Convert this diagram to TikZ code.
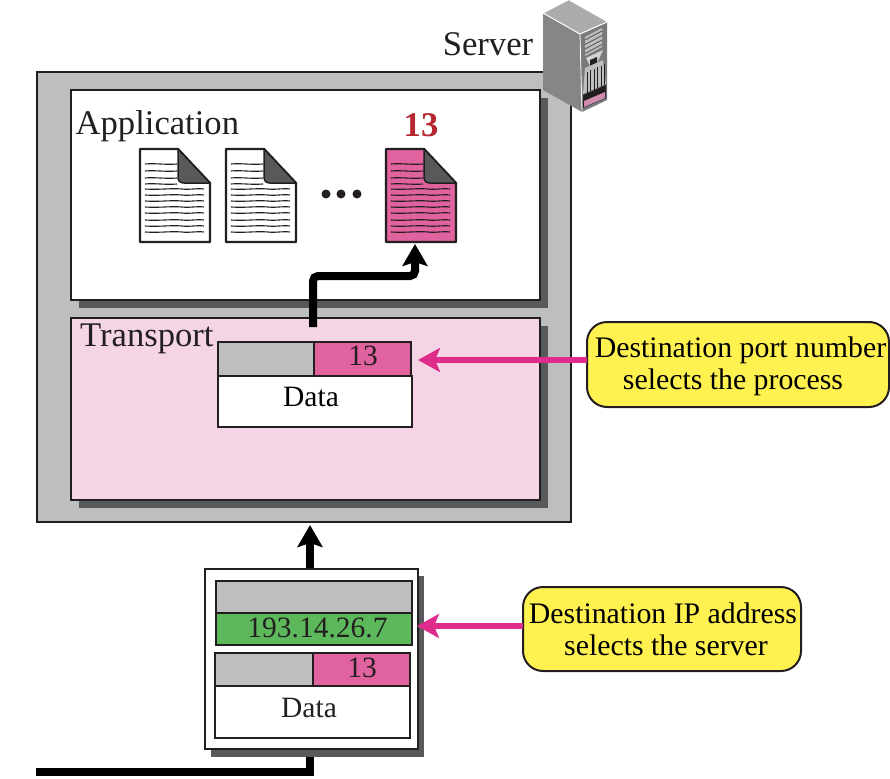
\documentclass[tikz,border=0pt]{standalone}
\usepackage{fontspec}
\setmainfont{Liberation Serif}
\usetikzlibrary{arrows.meta,positioning,calc}
\definecolor{framegray}{HTML}{BCBEC0}
\definecolor{shadowgray}{HTML}{58595B}
\definecolor{inkblack}{HTML}{231F20}
\definecolor{palepink}{HTML}{F5D5E5}
\definecolor{docpink}{HTML}{E0629F}
\definecolor{hotpink}{HTML}{DE2C8A}
\definecolor{addrgreen}{HTML}{5DB85C}
\definecolor{noteyellow}{HTML}{FFF14F}
\definecolor{numred}{HTML}{B5262E}
\tikzset{
  x=1pt,y=-1pt,
  box/.style={draw=inkblack,line width=2.4pt,anchor=north west,inner sep=0pt,outer sep=0pt},
  cell/.style={box,line width=2.4pt,text=inkblack,font=\fontsize{29.5}{30}\selectfont},
  shade/.style={fill=shadowgray,draw=none,anchor=north west,inner sep=0pt,outer sep=0pt},
  label/.style={text=inkblack,inner sep=0pt,font=\fontsize{34.6}{35}\selectfont},
  note/.style={draw=inkblack,line width=2pt,fill=noteyellow,rounded corners=20pt,align=center,inner sep=0pt,outer sep=0pt,text=black,font=\fontsize{29.8}{32}\selectfont},
  flow/.style={line width=8pt,draw=black,-{Stealth[length=22pt,width=25pt,inset=4pt]},rounded corners=5pt},
  pointer/.style={line width=6pt,draw=hotpink,-{Stealth[length=22pt,width=24pt,inset=5pt]}},
  docline/.style={draw=inkblack,line width=1.1pt},
}
\newcommand{\nudge}[3]{\raisebox{#2}{\hspace*{#1}#3}}
\newcommand{\mydoc}[3]{%
  \begin{scope}[shift={(#1,#2)}]
    \draw[fill=#3,draw=inkblack,line width=2.2pt,line join=round] (0,0) -- (38,0) -- (70,34) -- (70,93) -- (0,93) -- cycle;
    \draw[fill=shadowgray,draw=inkblack,line width=1.5pt,line join=round] (38,0) -- (70,34) -- (44,34) .. controls (40,34) and (38,32) .. (38,28) -- cycle;
    \foreach \yy in {15,22,29,35}{\draw[docline] (5,\yy) .. controls (15,\yy-1) and (25,\yy+1) .. (37,\yy);}
    \foreach \yy in {40,46,52,58,64,71,77,83}{\draw[docline] (5,\yy) .. controls (20,\yy+1) and (30,\yy-1) .. (42,\yy) .. controls (50,\yy+1) and (56,\yy-1) .. (64,\yy);}
  \end{scope}}
\begin{document}
\begin{tikzpicture}
\useasboundingbox (0,0) rectangle (890,778);
\fill[white] (0,0) rectangle (890,778);
\coordinate (linestart) at (36,772);
\coordinate (lowerin) at (310,750);
% server frame
\node[box,fill=framegray,minimum width=534,minimum height=450] (serverframe) at (37,72) {};
% application layer
\node[shade,minimum width=469,minimum height=210] (appshadow) at (79,98) {};
\node[box,fill=white,minimum width=469,minimum height=210] (app) at (71,90) {};
% transport layer
\node[shade,minimum width=469,minimum height=182] (transshadow) at (79,326) {};
\node[box,fill=palepink,minimum width=469,minimum height=182] (transport) at (71,318) {};
\node[label,anchor=base west] (applabel) at (75.5,135) {Application};
\node[label,anchor=base west] (translabel) at (80,346) {Transport};
\node[label,anchor=base] (serverlabel) at (488,56) {Server};
% documents
\mydoc{140}{149}{white}
\mydoc{226}{149}{white}
\mydoc{386}{149}{docpink}
\coordinate (doctarget) at (415,244);
\fill[inkblack] (326,194) circle (4.5) (341,194) circle (4.5) (357,194) circle (4.5);
\node[anchor=base,inner sep=0pt,text=numred,font=\fontsize{34.6}{35}\selectfont\bfseries] (num) at (421,137) {13};
% packet at transport
\node[cell,fill=framegray,minimum width=97,minimum height=34] (pgray) at (218,342) {};
\node[cell,fill=docpink,minimum width=97,minimum height=34] (pport) at (314,342) {\nudge{1pt}{6pt}{13}};
\node[cell,fill=white,minimum width=194,minimum height=51,text=black] (pdata) at (218,376) {\nudge{-8pt}{9pt}{Data}};
\coordinate (flowstart) at (313,327);
\draw[flow] (flowstart) -- (313,276) -- (415,276) -- (doctarget);
% lower box
\draw[line width=8pt,draw=black,line join=miter] (linestart) -- (310,772) -- (lowerin);
\node[shade,minimum width=213,minimum height=181] (lowshadow) at (211,576) {};
\draw[flow,rounded corners=0pt] (310,569) -- (310,525);
\node[box,fill=white,minimum width=213,minimum height=180] (lowerbox) at (205,569) {};
\node[cell,fill=framegray,minimum width=196,minimum height=32] (igray) at (216,581) {};
\node[cell,fill=addrgreen,minimum width=196,minimum height=32] (iaddr) at (216,613) {\nudge{7pt}{3pt}{193.14.26.7}};
\node[cell,fill=framegray,minimum width=98,minimum height=33] (qgray) at (215,653) {};
\node[cell,fill=docpink,minimum width=97,minimum height=33] (qport) at (313,653) {\nudge{1pt}{4pt}{13}};
\node[cell,fill=white,minimum width=195,minimum height=52] (qdata) at (215,686) {\nudge{-7pt}{8pt}{Data}};
% notes
\node[note,minimum width=302,minimum height=85] (note1) at (738,364.5) {\rule{0pt}{25pt}\hspace*{5pt}Destination port number\\\hspace*{-10pt}selects the process};
\node[note,minimum width=278,minimum height=84] (note2) at (662,629) {\hspace*{2pt}Destination IP address\\\hspace*{8pt}selects the server};
\draw[pointer] (note1.west |- 0,360) -- (418,360);
\draw[pointer] (note2.west |- 0,626) -- (417,626);
% server icon
\fill[framegray!90!black] (568,0) -- (607,22) -- (580,34) -- (543,13) -- cycle;
\fill[gray!95!white] (543,13) -- (580,34) -- (582,112) -- (543,90) -- cycle;
\fill[shadowgray!80] (580,34) -- (607,22) -- (607,100) -- (582,112) -- cycle;
\draw[white,line width=1pt] (568,0) -- (543,13) -- (580,34) -- (607,22);
\draw[white,line width=.8pt] (580,34) -- (582,112);
\fill[framegray] (585,37) -- (602,28) -- (602,47) -- (585,56) -- cycle;
\foreach \k in {0,4.5,9,13.5}{\draw[shadowgray,line width=.9pt] (585,40+\k) -- (602,31+\k);}
\fill[framegray!70!white] (586,58) -- (603,50) -- (593,72) -- cycle;
\fill[inkblack] (590,60) -- (597,57) -- (597,63) -- (590,66) -- cycle;
\fill[framegray] (585,68) -- (603,60) -- (606,84) -- (583,94) -- cycle;
\foreach \k in {0,3.5,7,10.5,14,17.5}{\draw[inkblack,line width=.9pt] (587+\k,72-\k*.45) -- (587+\k,93-\k*.45);}
\fill[inkblack] (583,95) -- (606,85) -- (606,98) -- (583,108) -- cycle;
\fill[docpink!55!framegray] (584,101) -- (605,92) -- (605,98) -- (584,107) -- cycle;
\end{tikzpicture}
\end{document}
